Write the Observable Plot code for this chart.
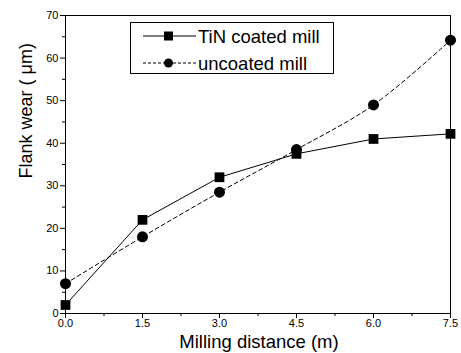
<!DOCTYPE html>
<html><head><meta charset="utf-8">
<script src="https://cdn.jsdelivr.net/npm/d3@7"></script>
<script src="https://cdn.jsdelivr.net/npm/@observablehq/plot@0.6"></script>
<style>
body{margin:0;background:#fff;font-family:"Liberation Sans",Arial,sans-serif;}
#wrap{position:relative;width:461px;height:353px;}
#legend{position:absolute;left:130px;top:22px;width:202px;height:50px;border:1px solid #000;background:#fff;}
#legend svg{position:absolute;left:0;top:0;}
</style></head>
<body><div id="wrap"><div id="chart"></div><div id="legend"></div></div>
<script>
const distance = [0, 1.5, 3.0, 4.5, 6.0, 7.5];
const tinCoated = [2, 22, 32, 37.5, 41, 42.2];
const uncoated = [7, 18, 28.5, 38.5, 49, 64.2];
const xTicks = [0, 1.5, 3.0, 4.5, 6.0, 7.5];
const xMinor = [0.75, 2.25, 3.75, 5.25, 6.75];
const yTicks = [0, 10, 20, 30, 40, 50, 60, 70];
const yMinor = [5, 15, 25, 35, 45, 55, 65];
const seriesNames = ["TiN coated mill", "uncoated mill"];

const tin = distance.map((d, i) => ({x: d, y: tinCoated[i]}));
const unc = distance.map((d, i) => ({x: d, y: uncoated[i]}));

const chart = Plot.plot({
  width: 461, height: 353,
  marginLeft: 65, marginRight: 11, marginTop: 15, marginBottom: 40,
  style: {fontFamily: '"Liberation Sans", Arial, sans-serif', fontSize: "11px", color: "#000", background: "#fff"},
  x: {domain: [0, 7.5]},
  y: {domain: [0, 70]},
  marks: [
    Plot.frame({stroke: "#000", strokeWidth: 1}),
    Plot.axisX({ticks: xTicks, tickFormat: d3.format(".1f"), tickSize: 5, tickPadding: 1, label: null, fontSize: 11}),
    Plot.axisX({ticks: xMinor, tickSize: 3, tickFormat: () => "", label: null}),
    Plot.axisY({ticks: yTicks, tickSize: 5, tickPadding: 2, label: null, fontSize: 11}),
    Plot.axisY({ticks: yMinor, tickSize: 3, tickFormat: () => "", label: null}),
    Plot.line(unc, {x: "x", y: "y", stroke: "#000", strokeWidth: 1, strokeDasharray: "4,3", curve: "catmull-rom"}),
    Plot.line(tin, {x: "x", y: "y", stroke: "#000", strokeWidth: 1}),
    Plot.dot(unc, {x: "x", y: "y", r: 5.5, fill: "#000", stroke: "none"}),
    Plot.dot(tin, {x: "x", y: "y", r: 5.5, symbol: "square", fill: "#000", stroke: "none"}),
    Plot.text(["Milling distance (m)"], {frameAnchor: "bottom", dy: 34, dx: 1, fontSize: 18.5, fill: "#000"}),
    Plot.text(["Flank wear ( μm)"], {frameAnchor: "left", dx: -39, dy: 14, rotate: -90, fontSize: 18, fill: "#000"})
  ]
});
document.getElementById("chart").appendChild(chart);

const lg = d3.select("#legend").append("svg").attr("width", 202).attr("height", 50);
const rows = [
  {name: seriesNames[0], dash: null, sym: "square", y: 13},
  {name: seriesNames[1], dash: "3,2", sym: "circle", y: 40}
];
rows.forEach(r => {
  lg.append("line").attr("x1", 12).attr("x2", 65).attr("y1", r.y).attr("y2", r.y)
    .attr("stroke", "#000").attr("stroke-width", 1).attr("stroke-dasharray", r.dash);
  if (r.sym === "square") lg.append("rect").attr("x", 33).attr("y", r.y - 4.5).attr("width", 9).attr("height", 9).attr("fill", "#000");
  else lg.append("circle").attr("cx", 37.5).attr("cy", r.y).attr("r", 4.5).attr("fill", "#000");
  lg.append("text").attr("x", 67).attr("y", r.y + 6.5).attr("font-size", 18.5).attr("font-family", '"Liberation Sans", Arial, sans-serif').text(r.name);
});
</script></body></html>
